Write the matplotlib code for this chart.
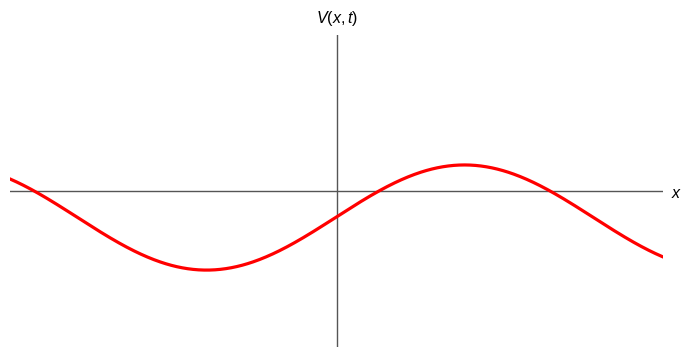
import numpy as np
import matplotlib
matplotlib.use("Agg")
import matplotlib.pyplot as plt

plt.rcParams['mathtext.fontset'] = 'custom'
plt.rcParams['mathtext.it'] = 'Liberation Sans:italic'
plt.rcParams['mathtext.rm'] = 'Liberation Sans'

# wave parameters (x and V in axis units, axes span [-1, 1])
amplitude = 0.337
offset = -0.170
wavelength = 1.580
crest_x = 0.392
x_range = [-1.0, 1.0]

x = np.linspace(x_range[0], x_range[1], 600)
V = offset + amplitude * np.cos(2 * np.pi * (x - crest_x) / wavelength)

fig = plt.figure(figsize=(6.84, 3.47), dpi=100)
ax = fig.add_axes([10 / 684, 0, 653 / 684, 1 - 35 / 347])

ax.plot(x, V, color='#ff0000', lw=2.3, zorder=3)

ax.axhline(0, color='#555555', lw=1.0, zorder=1)
ax.axvline(0, color='#555555', lw=1.0, zorder=1)

ax.set_xlim(*x_range)
ax.set_ylim(-1, 1)
ax.axis('off')

fig.text(337 / 684, 1 - 19 / 347, r'$V(x,t)$', ha='center', va='center',
         fontsize=11.5)
fig.text(671 / 684, 1 - 193 / 347, r'$x$', ha='left', va='center',
         fontsize=11.5)

fig.savefig('out.png', dpi=100)
